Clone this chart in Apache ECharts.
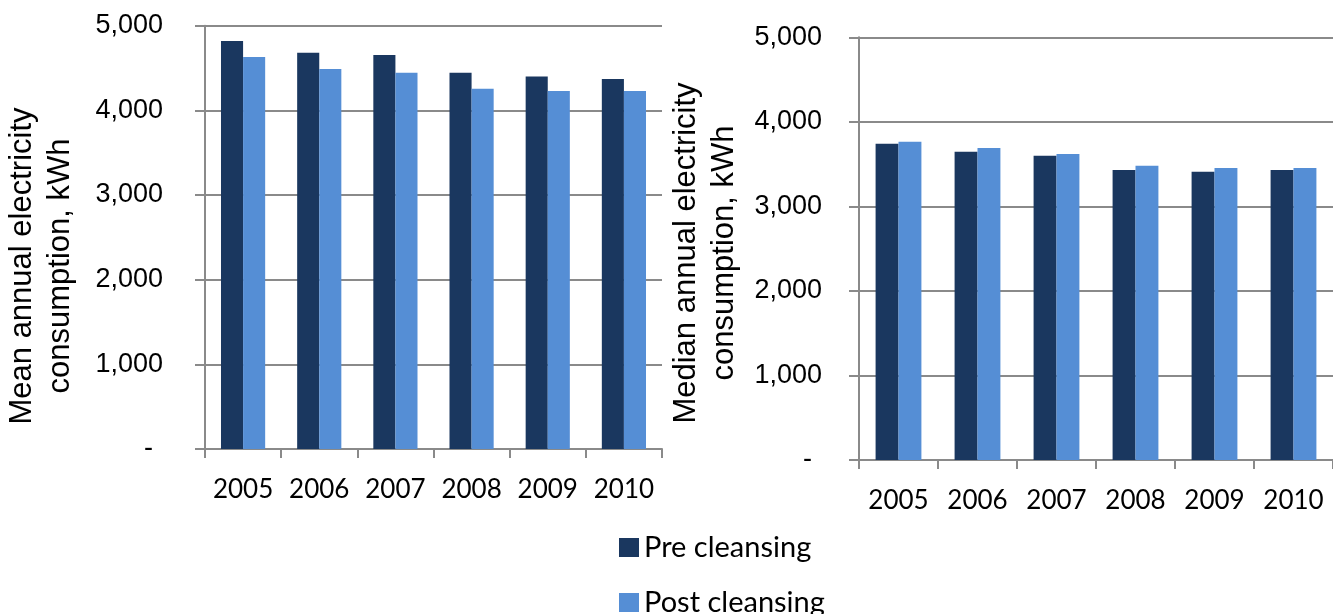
<!DOCTYPE html>
<html>
<head>
<meta charset="utf-8">
<script src="https://cdn.jsdelivr.net/npm/echarts@6/dist/echarts.min.js"></script>
<style>
html,body{margin:0;padding:0;background:#fff;}
#c{width:1333px;height:614px;}
</style>
</head>
<body>
<div id="c"></div>
<script>
const years = ['2005','2006','2007','2008','2009','2010'];
const meanPre = [4820, 4680, 4655, 4445, 4400, 4370];
const meanPost = [4630, 4490, 4445, 4255, 4230, 4230];
const medianPre = [3740, 3645, 3600, 3430, 3410, 3430];
const medianPost = [3765, 3690, 3620, 3480, 3455, 3455];
const seriesNames = ['Pre cleansing', 'Post cleansing'];
const yMin = 0, yMax = 5000, yStep = 1000;
const leftTitle = 'Mean annual electricity\nconsumption, kWh';
const rightTitle = 'Median annual electricity\nconsumption, kWh';

const PRE = '#1a375f', POST = '#558ed5', GRID = '#8a8a8a';
const chart = echarts.init(document.getElementById('c'));

function fmt(v){ return v === 0 ? '{z|-}' : v.toLocaleString('en-US'); }

function yAxis(gi, margin){
  return {
    type:'value', gridIndex:gi, min:yMin, max:yMax, interval:yStep,
    axisLine:{show:true, lineStyle:{color:GRID, width:2}},
    axisTick:{show:true, length:10, lineStyle:{color:GRID, width:2}},
    splitLine:{show:true, lineStyle:{color:GRID, width:2}},
    axisLabel:{
      margin:margin, color:'#000', fontFamily:'Liberation Sans', fontSize:27,
      formatter:fmt,
      rich:{z:{fontFamily:'Liberation Sans', fontSize:27, color:'#000', padding:[0,10,0,0]}}
    }
  };
}
function xAxis(gi){
  return {
    type:'category', gridIndex:gi, data:years,
    axisLine:{show:true, lineStyle:{color:GRID, width:2}},
    axisTick:{show:true, length:9, lineStyle:{color:GRID, width:2}},
    axisLabel:{interval:0, hideOverlap:false, margin:28, color:'#000', fontFamily:'Lato', fontSize:26}
  };
}
function bar(name, data, gi, color){
  return {
    name:name, type:'bar', xAxisIndex:gi, yAxisIndex:gi, data:data,
    barGap:'0%', barCategoryGap:'42%',
    itemStyle:{color:color}, emphasis:{disabled:true}, animation:false
  };
}

chart.setOption({
  animation:false,
  grid:[
    {left:205, top:25.7, width:457, height:423.3, containLabel:false},
    {left:859, top:37.3, width:477.6, height:422.7, containLabel:false}
  ],
  xAxis:[xAxis(0), xAxis(1)],
  yAxis:[yAxis(0,42), yAxis(1,37)],
  legend:{
    data:seriesNames, orient:'vertical', left:619, top:532, height:140, padding:0,
    icon:'rect', itemWidth:20, itemHeight:19, itemGap:24,
    textStyle:{fontFamily:'Lato', fontSize:29, color:'#000', lineHeight:31}
  },
  graphic:[
    {type:'text', x:41, y:266, rotation:Math.PI/2,
     style:{text:leftTitle, fontFamily:'Liberation Sans', fontSize:31, lineHeight:38, fill:'#000', textAlign:'center', textVerticalAlign:'middle'}},
    {type:'text', x:705, y:253, rotation:Math.PI/2,
     style:{text:rightTitle, fontFamily:'Liberation Sans', fontSize:31, lineHeight:38, fill:'#000', textAlign:'center', textVerticalAlign:'middle'}}
  ],
  series:[
    bar(seriesNames[0], meanPre, 0, PRE),
    bar(seriesNames[1], meanPost, 0, POST),
    bar(seriesNames[0], medianPre, 1, PRE),
    bar(seriesNames[1], medianPost, 1, POST)
  ]
});
</script>
</body>
</html>
